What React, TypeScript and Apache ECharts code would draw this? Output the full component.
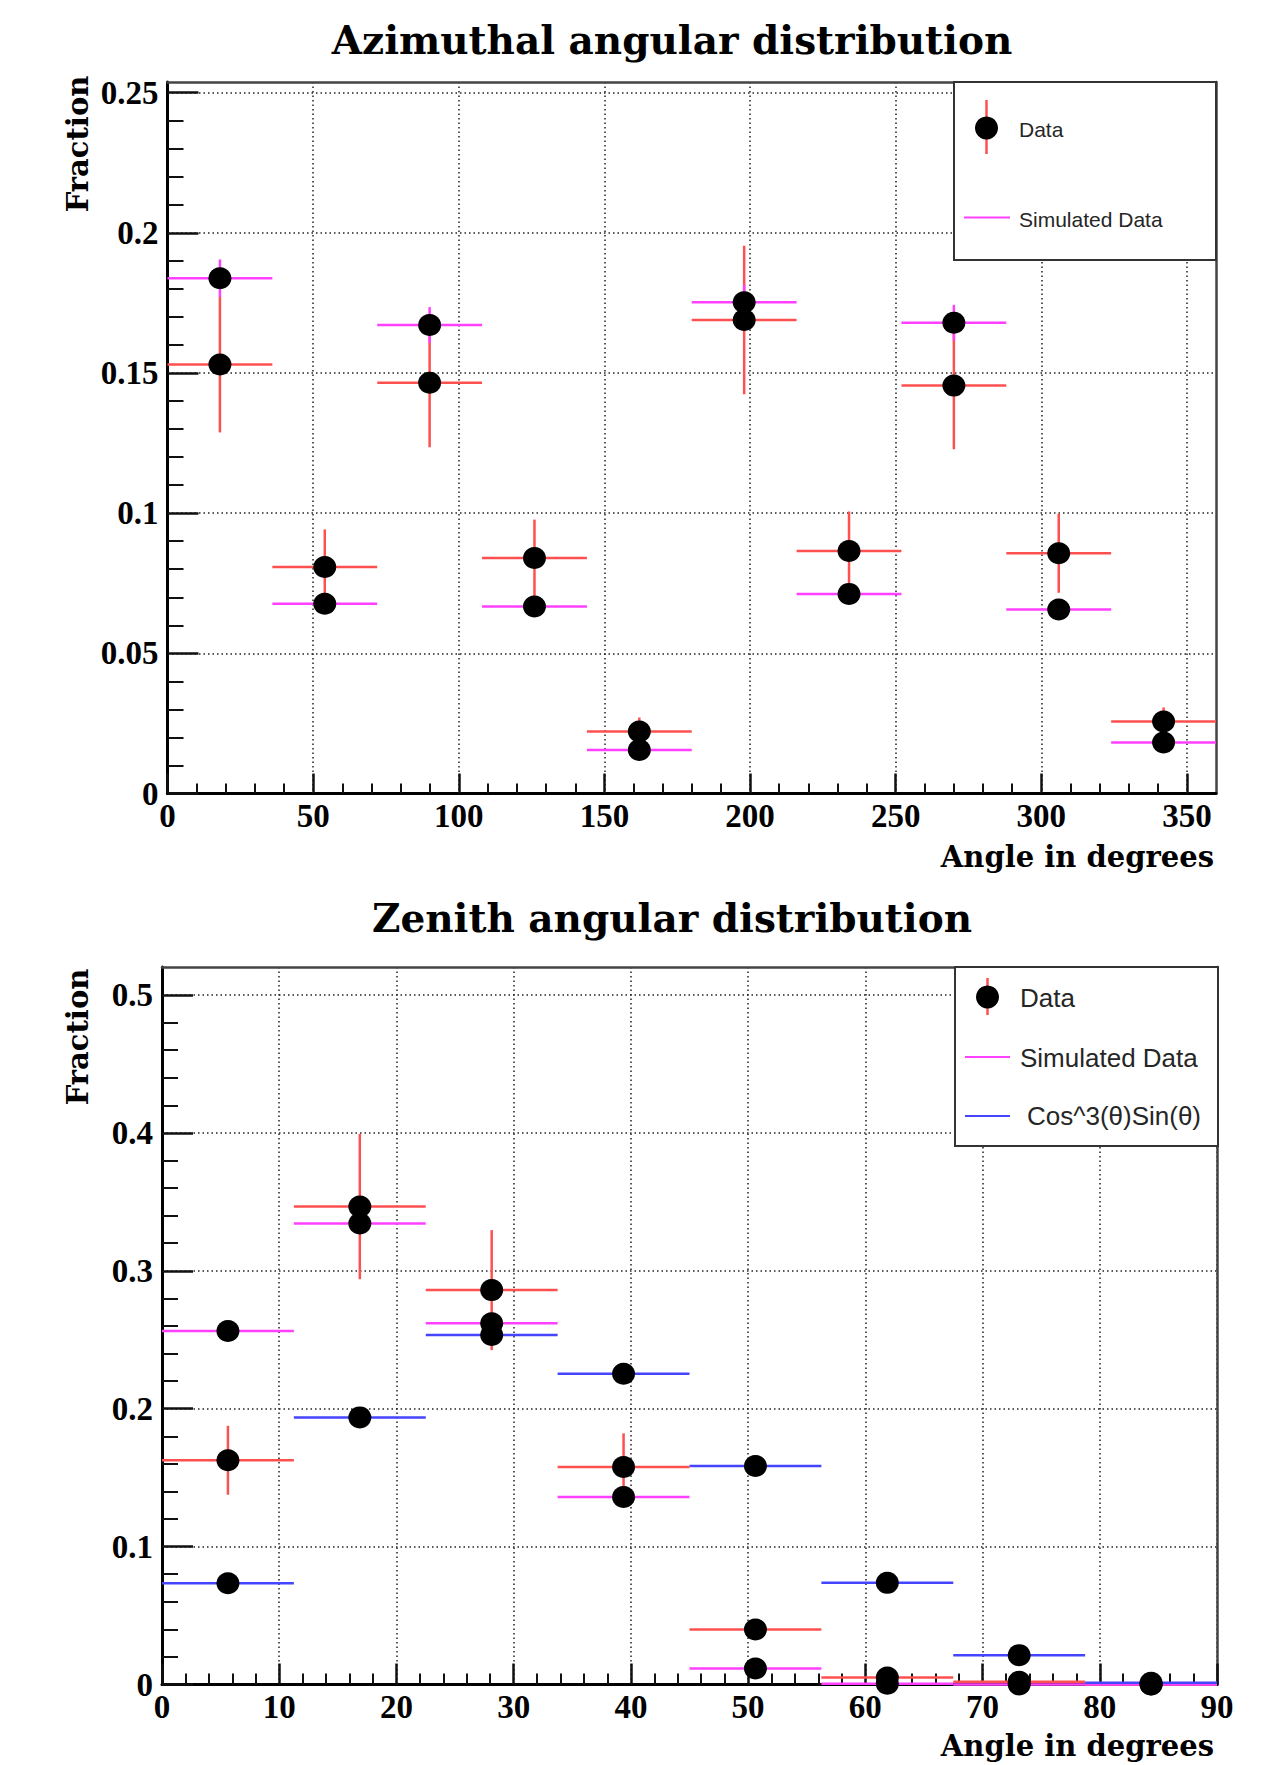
import React, { useEffect, useRef } from "react";
import * as echarts from "echarts";

// ---------------- Azimuthal angular distribution ----------------
const azBinCenters = [18, 54, 90, 126, 162, 198, 234, 270, 306, 342];
const azBinHalfWidth = 18;
const azDataValues = [0.153, 0.0808, 0.1465, 0.084, 0.0221, 0.1689, 0.0865, 0.1455, 0.0857, 0.0257];
const azDataErrors = [0.0242, 0.0134, 0.023, 0.0137, 0.005, 0.0265, 0.0141, 0.0227, 0.0141, 0.005];
const azSimValues = [0.1838, 0.0677, 0.1671, 0.0667, 0.0155, 0.1752, 0.0712, 0.1679, 0.0656, 0.0182];
const azSimErrors = [0.0067, 0.003, 0.0064, 0.003, 0.0015, 0.0062, 0.003, 0.0064, 0.003, 0.0015];
const azXTickLabels = [0, 50, 100, 150, 200, 250, 300, 350];
const azXMinorTicks = [10, 20, 30, 40, 60, 70, 80, 90, 110, 120, 130, 140, 160, 170, 180, 190, 210, 220, 230, 240, 260, 270, 280, 290, 310, 320, 330, 340];
const azYTickLabels = [0, 0.05, 0.1, 0.15, 0.2, 0.25];
const azYMinorTicks = [0.01, 0.02, 0.03, 0.04, 0.06, 0.07, 0.08, 0.09, 0.11, 0.12, 0.13, 0.14, 0.16, 0.17, 0.18, 0.19, 0.21, 0.22, 0.23, 0.24];

// ---------------- Zenith angular distribution ----------------
const zeBinCenters = [5.625, 16.875, 28.125, 39.375, 50.625, 61.875, 73.125, 84.375];
const zeBinHalfWidth = 5.625;
const zeDataValues = [0.1626, 0.3466, 0.286, 0.1577, 0.0399, 0.0051, 0.002, 0];
const zeDataErrors = [0.025, 0.0527, 0.0435, 0.0244, 0.0075, 0.003, 0.002, 0];
const zeSimValues = [0.2563, 0.3343, 0.262, 0.136, 0.0116, 0.0005, 0, 0];
const zeSimErrors = [0.006, 0.006, 0.006, 0.005, 0.002, 0.0005, 0, 0];
const zeCosValues = [0.0734, 0.1937, 0.2534, 0.2254, 0.1585, 0.0737, 0.0213, 0.0012];
const zeXTickLabels = [0, 10, 20, 30, 40, 50, 60, 70, 80, 90];
const zeXMinorTicks = [2, 4, 6, 8, 12, 14, 16, 18, 22, 24, 26, 28, 32, 34, 36, 38, 42, 44, 46, 48, 52, 54, 56, 58, 62, 64, 66, 68, 72, 74, 76, 78, 82, 84, 86, 88];
const zeYTickLabels = [0, 0.1, 0.2, 0.3, 0.4, 0.5];
const zeYMinorTicks = [0.02, 0.04, 0.06, 0.08, 0.12, 0.14, 0.16, 0.18, 0.22, 0.24, 0.26, 0.28, 0.32, 0.34, 0.36, 0.38, 0.42, 0.44, 0.46, 0.48];

const RED = "#ff5050";
const MAGENTA = "#ff40ff";
const BLUE = "#4545ff";

const SERIF = '"Liberation Serif", "Times New Roman", serif';
const TITLE_SERIF = '"DejaVu Serif", serif';
const SANS = '"Liberation Sans", Arial, sans-serif';

const fmt = (v: number) => (v === 0 ? "0" : String(parseFloat(Number(v).toFixed(3))));

const labelStyle = { fontFamily: SERIF, fontWeight: "bold" as const, fontSize: 33, color: "#000" };
const dotted = { show: true, lineStyle: { color: "#222", width: 1.5, type: [1.5, 3] } };

function mainAxis(gridIndex: number, pos: string, min: number, max: number, interval: number, ticks: number[], tickLen: number, margin: number) {
  return {
    type: "value", gridIndex, position: pos, min, max, interval,
    axisLine: { show: true, onZero: false, lineStyle: { color: "#000", width: 3 } },
    axisTick: { show: true, inside: true, length: tickLen, customValues: ticks, lineStyle: { color: "#111", width: 2.5 } },
    axisLabel: { show: true, margin, customValues: ticks, formatter: fmt, ...labelStyle },
    splitLine: dotted,
    minorTick: { show: false },
    minorSplitLine: { show: false },
  };
}
function minorAxis(gridIndex: number, pos: string, min: number, max: number, ticks: number[], tickLen: number) {
  return {
    type: "value", gridIndex, position: pos, min, max,
    axisLine: { show: false, onZero: false },
    axisTick: { show: true, inside: true, length: tickLen, customValues: ticks, lineStyle: { color: "#111", width: 2 } },
    axisLabel: { show: false },
    splitLine: { show: false },
  };
}
function frameAxis(gridIndex: number, pos: string, min: number, max: number) {
  return {
    type: "value", gridIndex, position: pos, min, max,
    axisLine: { show: true, onZero: false, lineStyle: { color: "#444", width: 2.5 } },
    axisTick: { show: false },
    axisLabel: { show: false },
    splitLine: { show: false },
  };
}

function barSeries(centers: number[], values: number[], errors: number[] | null, halfWidth: number, color: string, axisIdx: number, z: number) {
  return {
    type: "custom", xAxisIndex: axisIdx, yAxisIndex: axisIdx, z, silent: true, clip: false,
    data: centers.map((c, i) => [c, values[i], halfWidth, errors ? errors[i] : 0]),
    encode: { x: 0, y: 1 },
    renderItem: (_p: any, api: any) => {
      const x = api.value(0), y = api.value(1), hw = api.value(2), e = api.value(3);
      const l = api.coord([x - hw, y]);
      const r = api.coord([x + hw, y]);
      const children: any[] = [
        { type: "line", shape: { x1: l[0], y1: l[1], x2: r[0], y2: r[1] }, style: { stroke: color, lineWidth: 2.5 } },
      ];
      if (e > 0) {
        const t = api.coord([x, y + e]);
        const b = api.coord([x, y - e]);
        children.push({ type: "line", shape: { x1: t[0], y1: t[1], x2: b[0], y2: b[1] }, style: { stroke: color, lineWidth: 2.5 } });
      }
      return { type: "group", children };
    },
  };
}
function dotSeries(centers: number[], values: number[], axisIdx: number) {
  return {
    type: "scatter", xAxisIndex: axisIdx, yAxisIndex: axisIdx, z: 10, silent: true, clip: false,
    symbol: "circle", symbolSize: [23, 22], itemStyle: { color: "#000", opacity: 1 },
    data: centers.map((c, i) => [c, values[i]]),
  };
}

function txt(text: string, x: number, y: number, font: string, align: string, extra: any = {}) {
  return {
    type: "text", x, y, z: 100, silent: true, ...extra,
    style: { text, font, fill: "#000", align, textAlign: align, verticalAlign: "middle", textVerticalAlign: "middle", ...(extra.style || {}) },
  };
}

export default function App() {
  const ref = useRef<HTMLDivElement>(null);
  useEffect(() => {
    if (!ref.current) return;
    const chart = echarts.init(ref.current, undefined, { renderer: "svg" });
    const topMax = 0.2538;
    const botMax = 0.5203;
    const option: any = {
      animation: false,
      backgroundColor: "#fff",
      grid: [
        { left: 167.5, right: 52, top: 82, bottom: 971.5, outerBoundsMode: "none", containLabel: false },
        { left: 162, right: 51, top: 967, bottom: 80.5, outerBoundsMode: "none", containLabel: false },
      ],
      xAxis: [
        mainAxis(0, "bottom", 0, 360, 50, azXTickLabels, 20, 6),
        minorAxis(0, "bottom", 0, 360, azXMinorTicks, 10),
        frameAxis(0, "top", 0, 360),
        mainAxis(1, "bottom", 0, 90, 10, zeXTickLabels, 21, 6),
        minorAxis(1, "bottom", 0, 90, zeXMinorTicks, 11),
        frameAxis(1, "top", 0, 90),
      ],
      yAxis: [
        mainAxis(0, "left", 0, topMax, 0.05, azYTickLabels, 31, 9),
        minorAxis(0, "left", 0, topMax, azYMinorTicks, 16),
        frameAxis(0, "right", 0, topMax),
        mainAxis(1, "left", 0, botMax, 0.1, zeYTickLabels, 31, 9),
        minorAxis(1, "left", 0, botMax, zeYMinorTicks, 16),
        frameAxis(1, "right", 0, botMax),
      ],
      series: [
        barSeries(azBinCenters, azDataValues, azDataErrors, azBinHalfWidth, RED, 0, 3),
        barSeries(azBinCenters, azSimValues, azSimErrors, azBinHalfWidth, MAGENTA, 0, 4),
        dotSeries(azBinCenters, azDataValues, 0),
        dotSeries(azBinCenters, azSimValues, 0),
        barSeries(zeBinCenters, zeDataValues, zeDataErrors, zeBinHalfWidth, RED, 3, 3),
        barSeries(zeBinCenters, zeSimValues, zeSimErrors, zeBinHalfWidth, MAGENTA, 3, 4),
        barSeries(zeBinCenters, zeCosValues, null, zeBinHalfWidth, BLUE, 3, 5),
        dotSeries(zeBinCenters, zeDataValues, 3),
        dotSeries(zeBinCenters, zeSimValues, 3),
        dotSeries(zeBinCenters, zeCosValues, 3),
      ],
      graphic: [
        // titles
        txt("Azimuthal angular distribution", 672, 40, `bold 39px ${TITLE_SERIF}`, "center"),
        txt("Zenith angular distribution", 672, 918, `bold 39px ${TITLE_SERIF}`, "center"),
        // axis titles
        txt("Angle in degrees", 1214, 857, `bold 29px ${TITLE_SERIF}`, "right"),
        txt("Angle in degrees", 1214, 1746, `bold 29px ${TITLE_SERIF}`, "right"),
        txt("Fraction", 78, 144, `bold 29px ${TITLE_SERIF}`, "center", { rotation: Math.PI / 2 }),
        txt("Fraction", 78, 1037, `bold 29px ${TITLE_SERIF}`, "center", { rotation: Math.PI / 2 }),
        // top legend
        { type: "rect", z: 90, silent: true, shape: { x: 954, y: 82, width: 262, height: 178 }, style: { fill: "#fff", stroke: "#333", lineWidth: 2 } },
        { type: "line", z: 100, silent: true, shape: { x1: 986.5, y1: 100, x2: 986.5, y2: 154 }, style: { stroke: RED, lineWidth: 2.5 } },
        { type: "circle", z: 101, silent: true, shape: { cx: 986.5, cy: 128, r: 11.5 }, style: { fill: "#000" } },
        txt("Data", 1019, 129, `21px ${SANS}`, "left", { style: { fill: "#262626" } }),
        { type: "line", z: 100, silent: true, shape: { x1: 964, y1: 217.5, x2: 1010, y2: 217.5 }, style: { stroke: MAGENTA, lineWidth: 2 } },
        txt("Simulated Data", 1019, 219, `21px ${SANS}`, "left", { style: { fill: "#262626" } }),
        // bottom legend
        { type: "rect", z: 90, silent: true, shape: { x: 955, y: 967, width: 263, height: 179 }, style: { fill: "#fff", stroke: "#333", lineWidth: 2 } },
        { type: "line", z: 100, silent: true, shape: { x1: 987.5, y1: 978, x2: 987.5, y2: 1015 }, style: { stroke: RED, lineWidth: 2.5 } },
        { type: "circle", z: 101, silent: true, shape: { cx: 987.5, cy: 997, r: 11.5 }, style: { fill: "#000" } },
        txt("Data", 1020, 998, `26px ${SANS}`, "left", { style: { fill: "#262626" } }),
        { type: "line", z: 100, silent: true, shape: { x1: 965, y1: 1057, x2: 1010, y2: 1057 }, style: { stroke: MAGENTA, lineWidth: 2 } },
        txt("Simulated Data", 1020, 1058, `26px ${SANS}`, "left", { style: { fill: "#262626" } }),
        { type: "line", z: 100, silent: true, shape: { x1: 965, y1: 1116, x2: 1010, y2: 1116 }, style: { stroke: BLUE, lineWidth: 2 } },
        txt("Cos^3(\u03b8)Sin(\u03b8)", 1027, 1116, `26px ${SANS}`, "left", { style: { fill: "#262626" } }),
      ],
    };
    chart.setOption(option);
    return () => chart.dispose();
  }, []);
  return <div ref={ref} style={{ position: "absolute", left: 0, top: 0, width: 1268, height: 1765, background: "#fff" }} />;
}
